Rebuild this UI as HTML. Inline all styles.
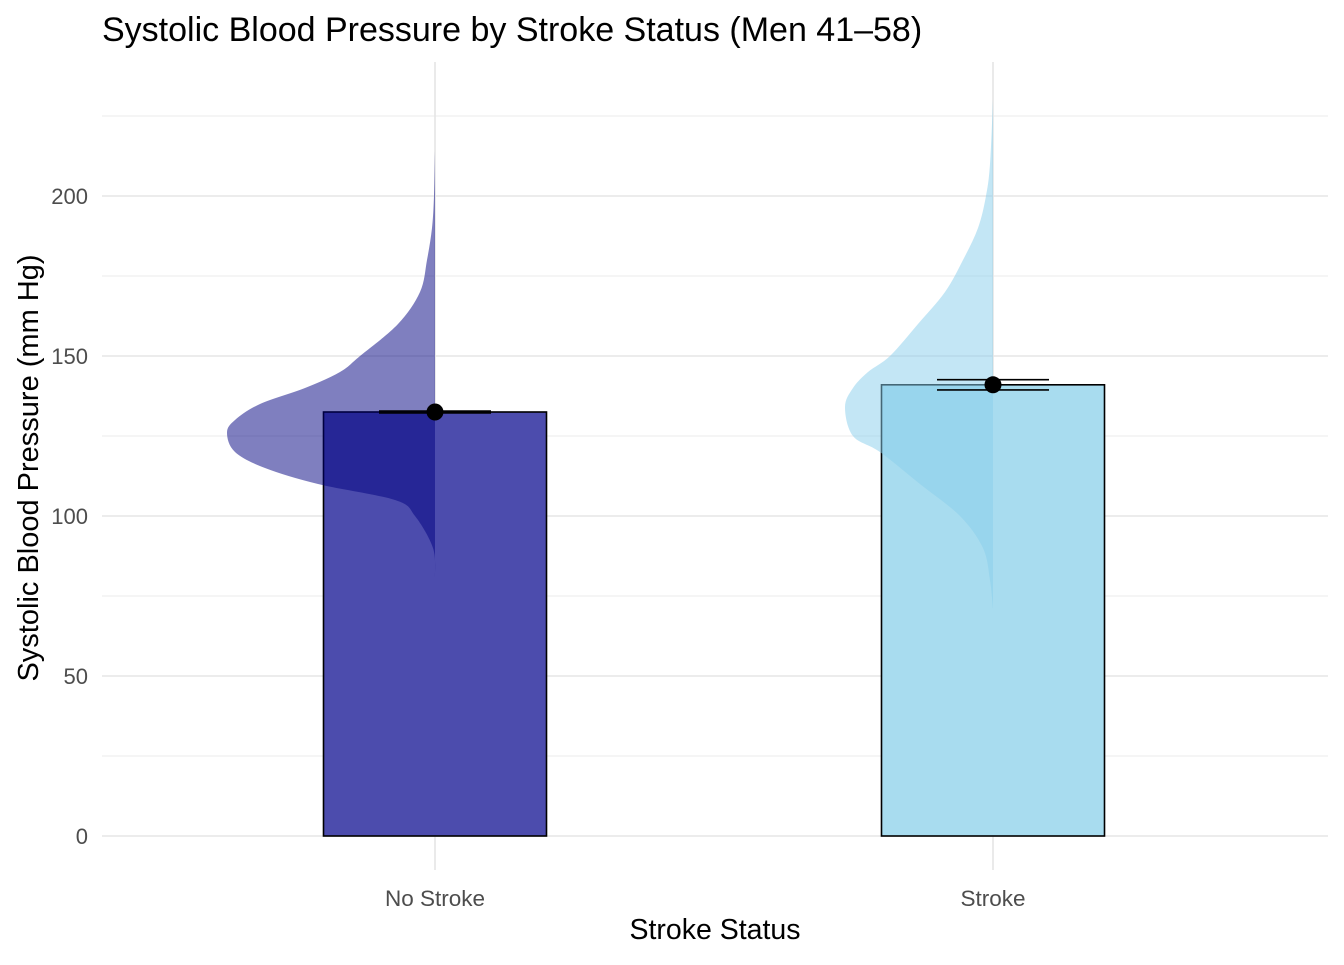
<!DOCTYPE html>
<html><head><meta charset="utf-8"><style>
body{margin:0;background:#fff;}
svg text{font-family:"Liberation Sans",sans-serif;}
</style></head><body>
<svg id="chart" width="1344" height="960" xmlns="http://www.w3.org/2000/svg">
<text x="102" y="41" font-size="34" fill="#000">Systolic Blood Pressure by Stroke Status (Men 41–58)</text>
<text transform="translate(38,468) rotate(-90)" text-anchor="middle" font-size="29" fill="#000">Systolic Blood Pressure (mm Hg)</text>
<text x="715" y="939" text-anchor="middle" font-size="28.5" fill="#000">Stroke Status</text>
<g id="grid"></g><g id="marks"></g><g id="labels"></g>
</svg>
<script>
const categories = ["No Stroke", "Stroke"];
const means = [132.5, 141];
const errLow = [132.2, 139.4];
const errHigh = [132.8, 142.6];
const yTicks = [0, 50, 100, 150, 200];
const yMinor = [25, 75, 125, 175, 225];
const densValsNo = [81,90,100,105,110,115,120,126,130,135,140,145,150,160,170,180,190,200,214];
const densNo = [0,2,20,40,117,170,200,208,200,175,130,95,75,37,15,8,3,1,0];
const densValsSt = [71,80,90,100,110,120,125,134,140,145,150,160,170,180,190,200,210,230];
const densSt = [0,3,10,33,73,113,140,148,140,125,103,75,48,30,15,7,3,0];
const barFill = ["#4c4cad", "#a8dcef"];
const violinFill = ["rgba(0,0,128,0.5)", "rgba(135,206,235,0.5)"];

const NS="http://www.w3.org/2000/svg";
const y = v => 836 - v*3.2;
const x = i => 435 + i*558;
const dScale = 1;
function mk(tag, attrs, parent){const e=document.createElementNS(NS,tag);for(const k in attrs)e.setAttribute(k,attrs[k]);document.getElementById(parent).appendChild(e);return e;}

yMinor.forEach(t=>{const e=mk("line",{x1:102,x2:1328,y1:y(t),y2:y(t),stroke:"#ebebeb","stroke-width":1},"grid");

});
yTicks.forEach(t=>{const e=mk("line",{x1:102,x2:1328,y1:y(t),y2:y(t),stroke:"#e5e5e5","stroke-width":1.6},"grid");


const l=mk("text",{x:88,y:y(t)+8,"text-anchor":"end","font-size":22,fill:"#4d4d4d"},"labels");l.textContent=t;

});
categories.forEach((c,i)=>{const e=mk("line",{x1:x(i),x2:x(i),y1:62,y2:870,stroke:"#e5e5e5","stroke-width":1.6},"grid");


const l=mk("text",{x:x(i),y:906,"text-anchor":"middle","font-size":22.5,fill:"#4d4d4d"},"labels");l.textContent=c;

});

categories.forEach((c,i)=>{
  const b=mk("rect",{x:x(i)-111.5,y:y(means[i]),width:223,height:y(0)-y(means[i]),fill:barFill[i],stroke:"#000","stroke-width":1.6},"marks");
  
  
});
function smooth(pts){
  let p="M"+pts[0][0]+","+pts[0][1];
  for(let k=0;k<pts.length-1;k++){
    const p0=pts[k-1]||pts[k],p1=pts[k],p2=pts[k+1],p3=pts[k+2]||p2;
    const c1=[p1[0]+(p2[0]-p0[0])/6,p1[1]+(p2[1]-p0[1])/6];
    const c2=[p2[0]-(p3[0]-p1[0])/6,p2[1]-(p3[1]-p1[1])/6];
    p+=" C"+c1+" "+c2+" "+p2;
  }
  return p;
}
[[densValsNo,densNo],[densValsSt,densSt]].forEach(([vals,d],i)=>{
  const pts=vals.map((v,k)=>[x(i)-d[k]*dScale,y(v)]);
  const p=smooth(pts)+" L"+x(i)+","+y(vals[vals.length-1])+" L"+x(i)+","+y(vals[0])+" Z";
  const e=mk("path",{d:p,fill:violinFill[i]},"marks");
  
  
});
categories.forEach((c,i)=>{
  const g=mk("g",{},"marks");
  
  
  [errLow[i],errHigh[i]].forEach(v=>{const l=document.createElementNS(NS,"line");
   l.setAttribute("x1",x(i)-56);l.setAttribute("x2",x(i)+56);l.setAttribute("y1",y(v));l.setAttribute("y2",y(v));l.setAttribute("stroke","#000");l.setAttribute("stroke-width",1.6);g.appendChild(l);});
  const v=document.createElementNS(NS,"line");v.setAttribute("x1",x(i));v.setAttribute("x2",x(i));v.setAttribute("y1",y(errLow[i]));v.setAttribute("y2",y(errHigh[i]));v.setAttribute("stroke","#000");v.setAttribute("stroke-width",1.6);g.appendChild(v);
  const pt=mk("circle",{cx:x(i),cy:y(means[i]),r:8.5,fill:"#000"},"marks");
  
  
});
</script>
</body></html>
